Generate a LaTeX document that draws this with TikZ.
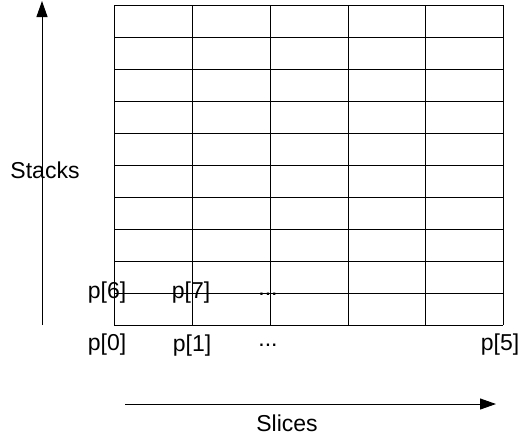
\documentclass[tikz,border=0pt]{standalone}
\usepackage{fontspec}
\setmainfont{Liberation Sans}
\usetikzlibrary{arrows.meta,positioning}

\begin{document}
\begin{tikzpicture}[x=1pt,y=-1pt,line width=1pt,
	lbl/.style={font=\fontsize{23}{27}\selectfont, inner sep=0pt},
	axis/.style={-{Triangle[length=16pt,width=11pt]}}]
	\useasboundingbox (0,0) rectangle (529,442);
	
	% grid of slices x stacks
	\foreach \i in {0,...,10} \draw (114,5+32*\i) -- (503,5+32*\i);
	\foreach \j in {114,192,270,348,425,503} \draw (\j,5) -- (\j,325);
	
	\node[lbl] (p6) at (107,293) {p[6]};
	\node[lbl] (p7) at (191,293) {p[7]};
	\node[lbl] (d1) at (268,294) {...};
	\node[lbl] (p0) at (107,345) {p[0]};
	\node[lbl] (p1) at (192,346) {p[1]};
	\node[lbl] (d2) at (268,345) {...};
	\node[lbl] (p5) at (500,345) {p[5]};
	
	\coordinate (sb) at (42,325);
	\coordinate (st) at (42,1);
	\draw[axis] (sb) -- (st);
	\node[lbl] (stacks) at (45,170) {Stacks};
	
	\coordinate (sl) at (125,404);
	\coordinate (sr) at (496,404);
	\draw[axis] (sl) -- (sr);
	\node[lbl] (slices) at (287,423) {Slices};
\end{tikzpicture}
\end{document}
